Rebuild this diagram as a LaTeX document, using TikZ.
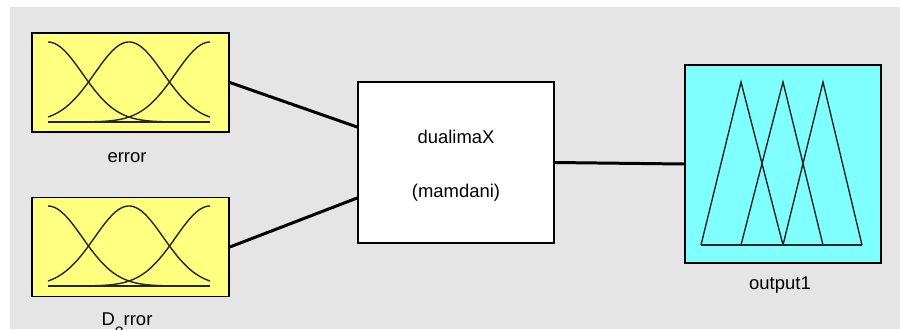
\documentclass[tikz,border=0pt]{standalone}
\usepackage{fontspec}
\setmainfont{Liberation Sans}
\usetikzlibrary{positioning, calc}
\definecolor{bggray}{RGB}{229,229,229}
\definecolor{inyellow}{RGB}{255,255,128}
\definecolor{outcyan}{RGB}{128,255,255}

\begin{document}
\begin{tikzpicture}[
  x=0.02cm, y=-0.02cm,
  inp/.style  = {draw, line width=1pt, fill=inyellow, inner sep=0pt,
                 minimum width=3.94cm, minimum height=1.98cm},
  fis/.style  = {draw, line width=1pt, fill=white, inner sep=0pt,
                 minimum width=3.92cm, minimum height=3.22cm},
  outp/.style = {draw, line width=1pt, fill=outcyan, inner sep=0pt,
                 minimum width=3.92cm, minimum height=3.96cm},
  lbl/.style  = {font=\fontsize{10.5}{12}\selectfont, inner sep=0pt},
  wire/.style = {line width=1.7pt},
  mf/.style   = {line width=0.8pt, black!85},
]

% ── Frame ─────────────────────────────────────────────────────────────────────
\clip (0,0) rectangle (900,329);
\fill[bggray] (10,7) rectangle (900,329);

% ── Inputs ────────────────────────────────────────────────────────────────────
\node[inp] (err)  at (130.5,82.5) {};
\node[inp] (derr) at (130.5,247)  {};
\node[lbl, anchor=base] (errlbl)  at (127,162) {error};
\node[lbl, anchor=base] (derrlbl) at (127,325) {D\raisebox{-0.55em}{\small e}rror};

\foreach \dy in {0,164} {
  \foreach \c in {48,129,210}
    \draw[mf] plot[domain=48:210, samples=70, smooth]
      (\x,{\dy+122-80*exp(-0.5*((\x-\c)/34.4)*((\x-\c)/34.4))});
  \draw[mf] (48,\dy+122) -- (210,\dy+122);
}

% ── FIS block ─────────────────────────────────────────────────────────────────
\node[fis] (sys) at (456,162.5) {};
\node[lbl, anchor=base] (sysname) at (456,143) {dualimaX};
\node[lbl, anchor=base] (systype) at (456,197) {(mamdani)};

% ── Output ────────────────────────────────────────────────────────────────────
\node[outp] (out) at (783,164) {};
\node[lbl, anchor=base] (outlbl) at (780,289) {output1};

\foreach \a/\b/\c in {701/741/783, 741/783/823, 783/823/862}
  \draw[mf] (\a,245) -- (\b,82) -- (\c,245);
\draw[mf] (701,245) -- (862,245);

% ── Wires ─────────────────────────────────────────────────────────────────────
\draw[wire] (err.east)  -- ([yshift=0.71cm]sys.west);
\draw[wire] (derr.east) -- ([yshift=-0.71cm]sys.west);
\draw[wire] (sys.east)  -- (out.west);

\end{tikzpicture}
\end{document}
